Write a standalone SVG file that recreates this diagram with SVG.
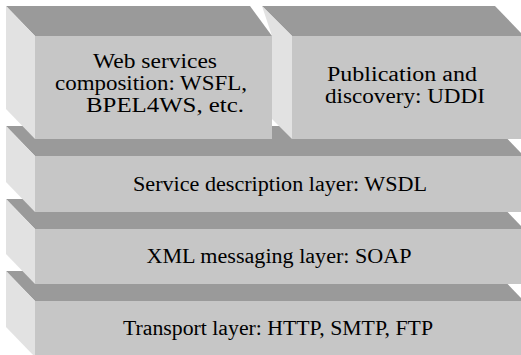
<svg xmlns="http://www.w3.org/2000/svg" width="521" height="355" viewBox="0 0 521 355">
<style>
.top{fill:#9a9a9a}
.side{fill:#e2e2e2}
.front{fill:#c6c6c6}
.lbl{font-family:'Liberation Serif','DejaVu Serif',serif;font-size:20px;fill:#000;text-anchor:middle}
</style>
<rect width="521" height="355" fill="#fff"/>
<g id="transport">
<polygon class="top" points="6,271 495,271 524,301 35,301"/>
<polygon class="side" points="6,271 35,301 35,357 6,327"/>
<rect class="front" x="35" y="301" width="489" height="56"/>
<text class="lbl" x="278" y="335" textLength="310" lengthAdjust="spacingAndGlyphs">Transport layer: HTTP, SMTP, FTP</text>
</g>
<g id="xml">
<polygon class="top" points="6,199 495,199 524,229 35,229"/>
<polygon class="side" points="6,199 35,229 35,284 6,254"/>
<rect class="front" x="35" y="229" width="489" height="55"/>
<text class="lbl" x="279" y="263" textLength="265" lengthAdjust="spacingAndGlyphs">XML messaging layer: SOAP</text>
</g>
<g id="wsdl">
<polygon class="top" points="6,126 495,126 524,156 35,156"/>
<polygon class="side" points="6,126 35,156 35,212 6,182"/>
<rect class="front" x="35" y="156" width="489" height="56"/>
<text class="lbl" x="280" y="191" textLength="294" lengthAdjust="spacingAndGlyphs">Service description layer: WSDL</text>
</g>
<g id="uddi">
<polygon class="top" points="262,6 495,6 524,36 292,36"/>
<polygon class="side" points="262,6 292,36 292,139 272,119 272,36"/>
<rect class="front" x="292" y="36" width="232" height="103"/>
<text class="lbl" x="402" y="81" textLength="150" lengthAdjust="spacingAndGlyphs">Publication and</text>
<text class="lbl" x="405" y="103" textLength="160" lengthAdjust="spacingAndGlyphs">discovery: UDDI</text>
</g>
<g id="composition">
<polygon class="top" points="6,6 250,6 272,36 35,36"/>
<polygon class="side" points="6,6 35,36 35,139 6,109"/>
<rect class="front" x="35" y="36" width="237" height="103"/>
<text class="lbl" x="155" y="68" textLength="124" lengthAdjust="spacingAndGlyphs">Web services</text>
<text class="lbl" x="151" y="90" textLength="192" lengthAdjust="spacingAndGlyphs">composition: WSFL,</text>
<text class="lbl" x="165" y="112" textLength="158" lengthAdjust="spacingAndGlyphs">BPEL4WS, etc.</text>
</g>
</svg>
